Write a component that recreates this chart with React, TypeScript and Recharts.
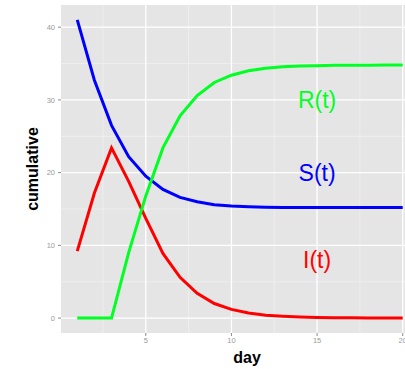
import React from 'react';
import { LineChart, Line, XAxis, YAxis, CartesianGrid, ReferenceDot, Label } from 'recharts';

const days = [1, 2, 3, 4, 5, 6, 7, 8, 9, 10, 11, 12, 13, 14, 15, 16, 17, 18, 19, 20];
const sValues = [41.0, 32.7, 26.5, 22.2, 19.5, 17.7, 16.6, 16.0, 15.6, 15.4, 15.3, 15.25, 15.2, 15.2, 15.2, 15.2, 15.2, 15.2, 15.2, 15.2];
const iValues = [9.2, 17.2, 23.4, 18.8, 13.7, 8.9, 5.6, 3.4, 2.0, 1.2, 0.7, 0.4, 0.25, 0.15, 0.09, 0.05, 0.03, 0.02, 0.01, 0.01];
const rValues = [0, 0, 0, 9.0, 16.8, 23.4, 27.8, 30.6, 32.4, 33.4, 34.0, 34.35, 34.55, 34.65, 34.7, 34.75, 34.77, 34.78, 34.79, 34.8];

const xTicks = [5, 10, 15, 20];
const yTicks = [0, 10, 20, 30, 40];
const xMinor = [2.5, 7.5, 12.5, 17.5];
const yMinor = [5, 15, 25, 35];

const curveLabels = [
  { name: 'R(t)', x: 15, y: 30, color: '#00FF22' },
  { name: 'S(t)', x: 15, y: 20, color: '#0000FF' },
  { name: 'I(t)', x: 15, y: 8, color: '#FF0000' },
];

const data = days.map((d, i) => ({ day: d, S: sValues[i], I: iValues[i], R: rValues[i] }));

const FONT = '"Liberation Sans", Arial, Helvetica, sans-serif';

export default function App() {
  return (
    <div style={{ position: 'absolute', left: 0, top: 0, width: 405, height: 369, overflow: 'hidden', background: '#fff' }}>
      <LineChart width={419} height={369} data={data} margin={{ top: 5, right: 0, bottom: 0, left: 0 }}>
        <CartesianGrid
          fill="#E5E5E5"
          stroke="#F2F2F2"
          strokeWidth={0.7}
          horizontalValues={yMinor}
          verticalValues={xMinor}
        />
        <CartesianGrid
          fill="none"
          stroke="#FFFFFF"
          strokeWidth={1.3}
          horizontalValues={yTicks}
          verticalValues={xTicks}
        />
        <XAxis
          dataKey="day"
          type="number"
          domain={[0.05, 20.95]}
          ticks={xTicks}
          allowDataOverflow
          height={36}
          axisLine={false}
          tickSize={3}
          tickMargin={2}
          tickLine={{ stroke: '#8A8A8A' }}
          tick={{ fill: '#9A9A9A', fontSize: 7.5, fontFamily: FONT }}
        >
          <Label
            content={(props: any) => {
              const vb = props.viewBox;
              return (
                <text x={247} y={vb.y + 30} textAnchor="middle" fontFamily={FONT} fontWeight="bold" fontSize={16} fill="#000">
                  day
                </text>
              );
            }}
          />
        </XAxis>
        <YAxis
          type="number"
          domain={[-2.05, 43.05]}
          ticks={yTicks}
          allowDataOverflow
          width={61}
          axisLine={false}
          tickSize={3}
          tickMargin={3}
          tickLine={{ stroke: '#8A8A8A' }}
          tick={{ fill: '#9A9A9A', fontSize: 7.5, fontFamily: FONT }}
        >
          <Label
            content={(props: any) => {
              const vb = props.viewBox;
              const cy = vb.y + vb.height / 2;
              return (
                <text
                  x={38}
                  y={cy}
                  transform={`rotate(-90, 38, ${cy})`}
                  textAnchor="middle"
                  fontFamily={FONT}
                  fontWeight="bold"
                  fontSize={16}
                  fill="#000"
                >
                  cumulative
                </text>
              );
            }}
          />
        </YAxis>
        <Line type="linear" dataKey="S" stroke="#0000FF" strokeWidth={3} dot={false} isAnimationActive={false} />
        <Line type="linear" dataKey="I" stroke="#FF0000" strokeWidth={3} dot={false} isAnimationActive={false} />
        <Line type="linear" dataKey="R" stroke="#00FF22" strokeWidth={3} dot={false} isAnimationActive={false} />
        {curveLabels.map((c) => (
          <ReferenceDot
            key={c.name}
            x={c.x}
            y={c.y}
            r={0}
            shape={(p: any) => (
              <text x={p.cx} y={p.cy + 8.2} textAnchor="middle" fontFamily={FONT} fontSize={23} fill={c.color}>
                {c.name}
              </text>
            )}
          />
        ))}
      </LineChart>
    </div>
  );
}
